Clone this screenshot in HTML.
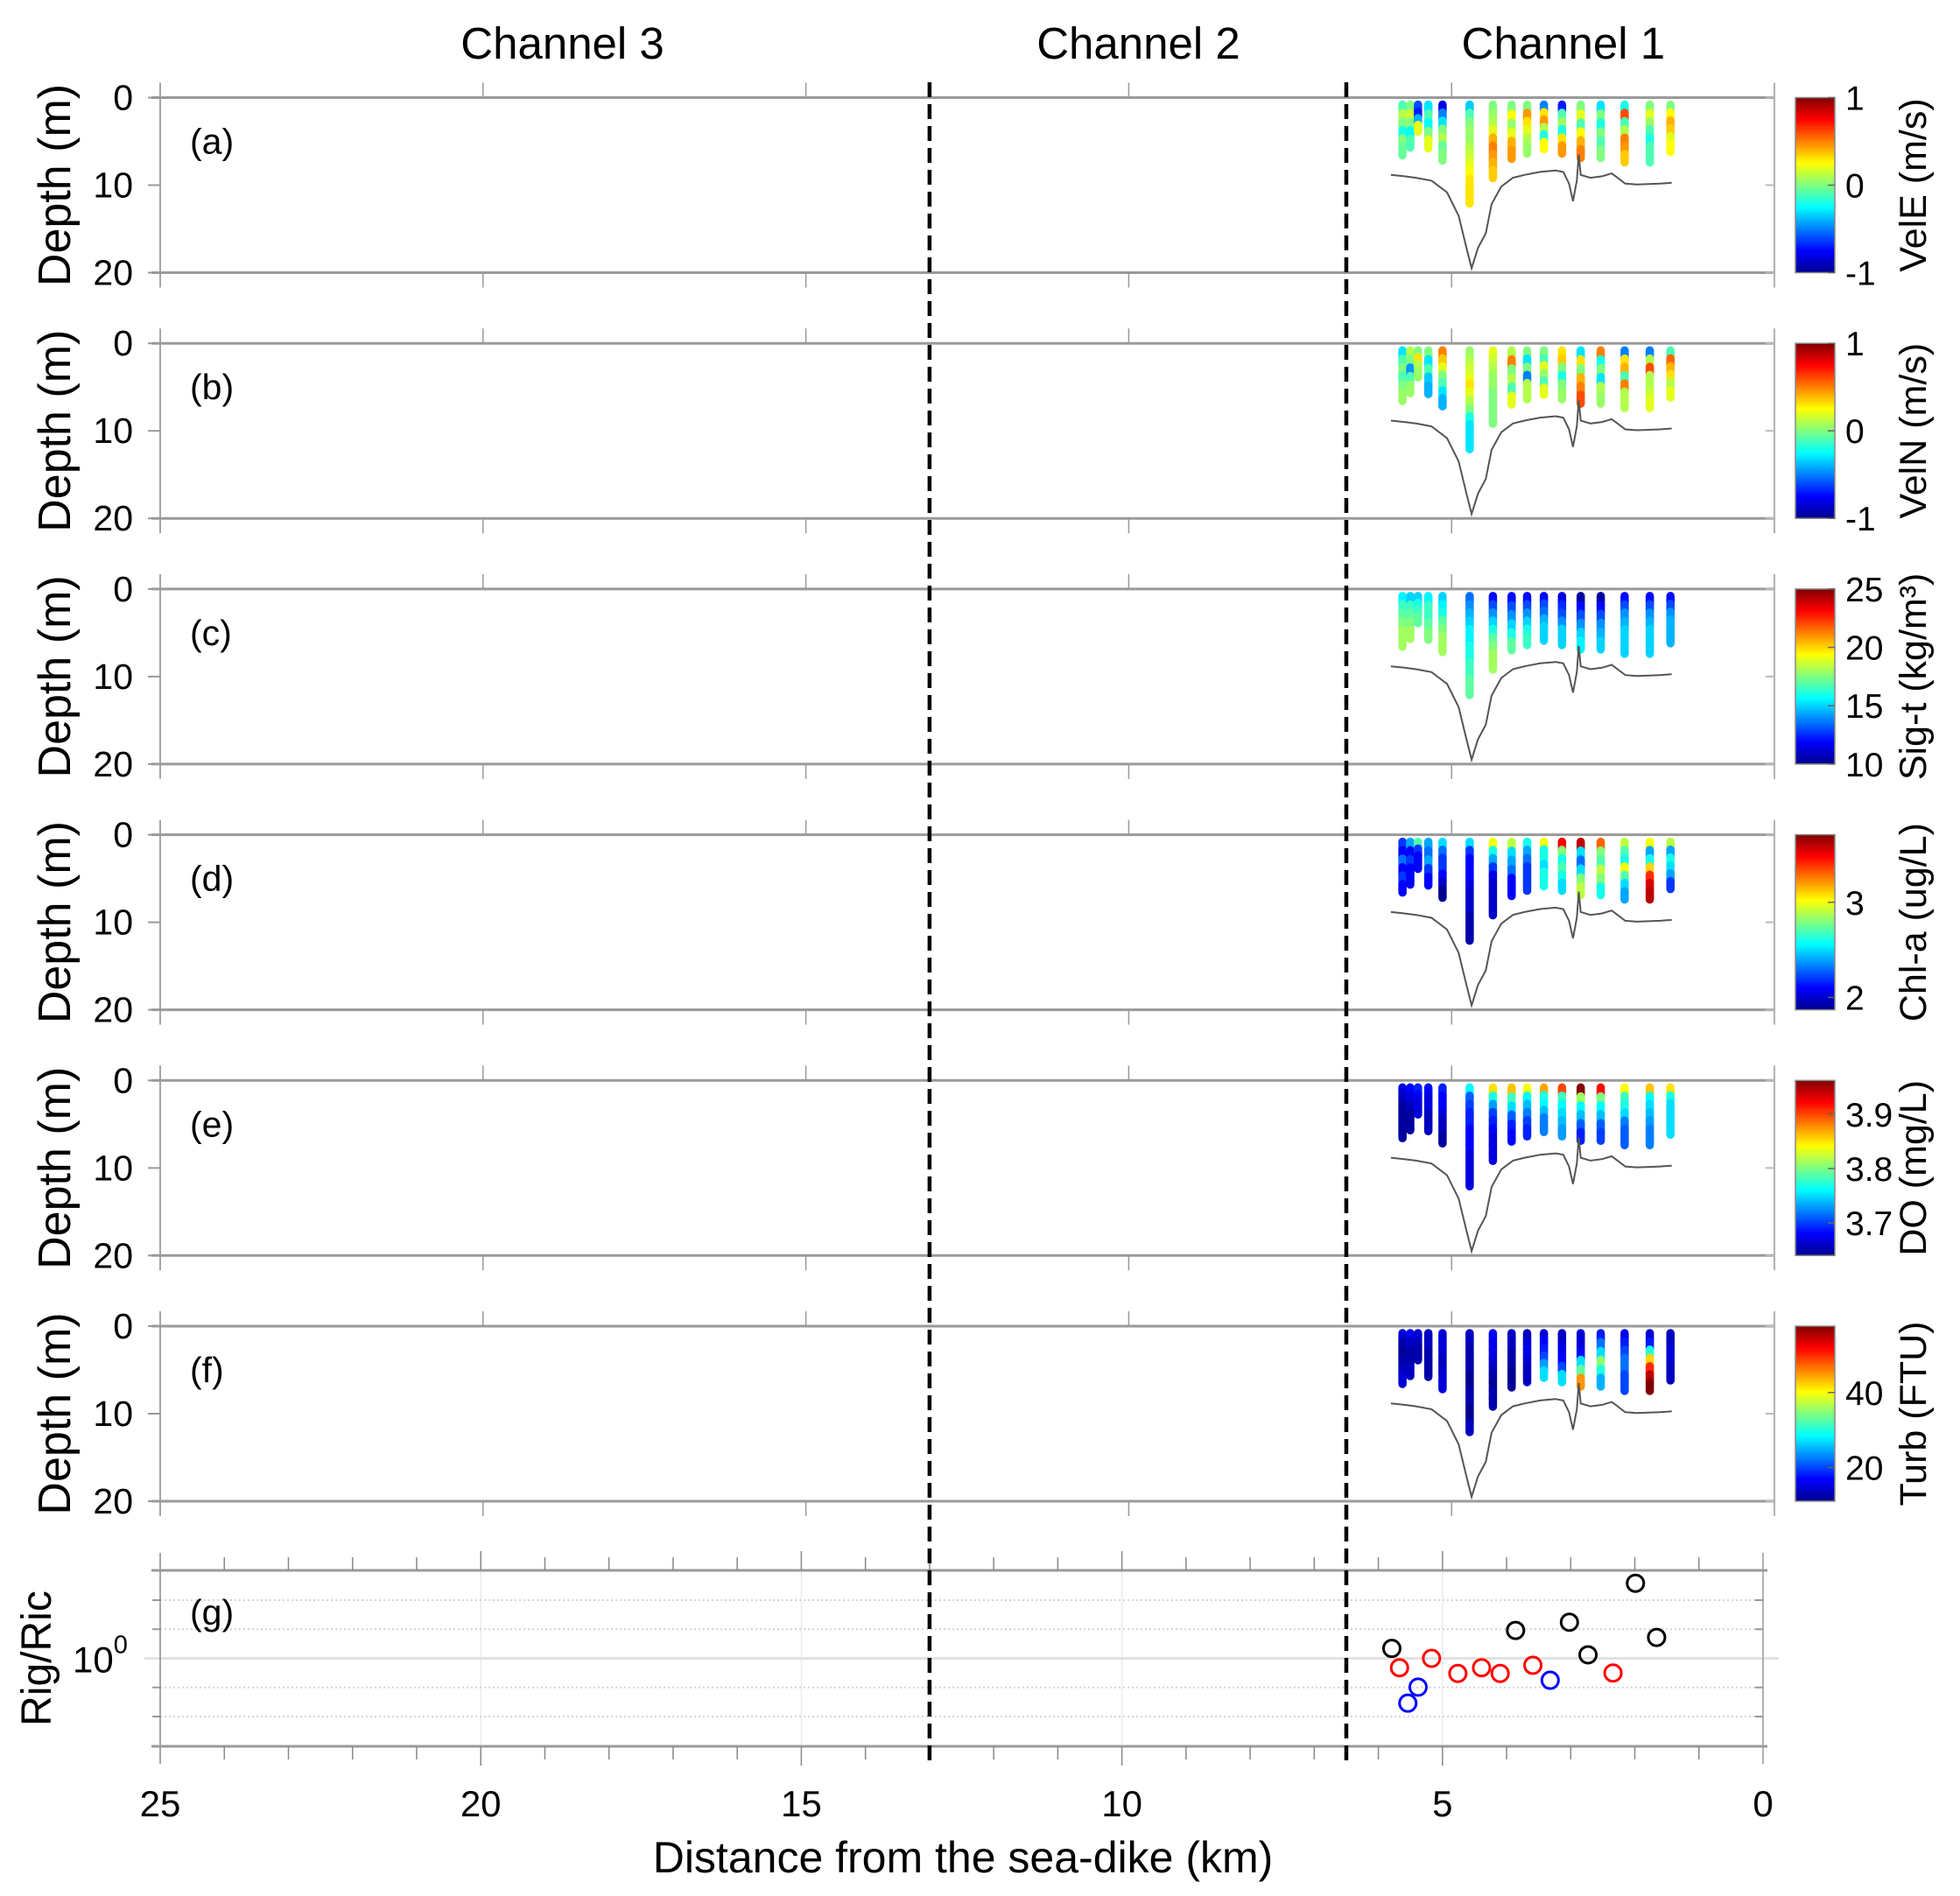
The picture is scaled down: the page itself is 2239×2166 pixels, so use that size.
<!DOCTYPE html>
<html><head><meta charset="utf-8">
<style>
html,body{margin:0;padding:0;background:#fff;}
svg{display:block;font-family:"Liberation Sans",Arial,sans-serif;}
</style></head>
<body>
<svg id="fig" width="2239" height="2166" viewBox="0 0 2239 2166" xmlns="http://www.w3.org/2000/svg">
<defs>
<linearGradient id="jet" x1="0" y1="1" x2="0" y2="0">
<stop offset="0" stop-color="#00008f"/><stop offset="0.125" stop-color="#0000ff"/>
<stop offset="0.375" stop-color="#00ffff"/><stop offset="0.625" stop-color="#ffff00"/>
<stop offset="0.875" stop-color="#ff0000"/><stop offset="1" stop-color="#800000"/>
</linearGradient>
</defs>
</svg>
<script>
// ---------- data ----------
const stationKm = [5.76,5.64,5.52,5.36,5.14,4.72,4.36,4.07,3.83,3.57,3.29,3.00,2.69,2.32,1.93,1.61];
const stationMaxDepth = [6.6,5.7,3.9,5.8,7.2,12.1,9.2,7.0,6.4,5.9,6.4,6.9,6.9,7.4,7.4,6.2];
const bathyKm = [5.94,5.73,5.55,5.31,5.07,4.89,4.77,4.69,4.59,4.47,4.38,4.23,4.05,3.87,3.63,3.39,3.27,3.18,3.12,3.06,3.03,3.00,2.85,2.67,2.52,2.43,2.31,2.13,1.77,1.59];
const bathyDepth = [8.83,8.99,9.16,9.49,10.83,13.5,17.16,19.49,17.16,15.5,12.17,10.16,9.16,8.83,8.49,8.33,8.49,9.83,11.83,9.49,6.5,8.83,9.16,8.99,8.66,9.16,9.83,9.93,9.83,9.73];

const velE = [[-0.1,0.1,0.0,-0.2,0.0,-0.05],[0,0.15,0,-0.25,-0.1],[-0.6,-0.7,-0.4,0.2],[-0.3,-0.1,-0.25,0.0,0.2],[-0.8,-0.5,-0.3,0.0,0.1,-0.05,0.0],[-0.35,-0.1,0,0.05,0.05,0.1,0.15,0.2,0.25,0.3,0.3,0.3],[0,0.05,0.1,0.2,0.4,0.5,0.45,0.4,0.35],[0,0.25,0.05,0.2,0.4,0.45],[0,0.45,0.3,0.2,0.1,0.05],[-0.5,0.3,0.45,0.1,-0.2,0.25],[-0.7,-0.1,0.05,-0.2,0.3,0.45],[0,0.2,-0.1,0.25,0.4,0.5],[-0.3,0,-0.2,0,-0.1,0],[-0.2,0.6,-0.1,0.1,0.5,0.45,0.35],[0,0.2,0.05,-0.1,-0.2,-0.1,-0.1],[0,0.25,0.4,0.35,0.2,0.25]];
const velN = [[-0.3,-0.1,0,-0.1,0,0.05],[0.1,0,-0.45,-0.1,0.05],[0,0.3,0.1,0.05],[0,-0.3,-0.1,-0.35,-0.4],[0.5,0.35,0.2,0,-0.1,-0.3,-0.4],[0.05,0.1,0.15,0.2,0.3,0.2,0.1,0.0,-0.2,-0.3,-0.3,-0.3],[0.2,0.15,0.1,0.05,0.05,0,0,0,0],[0.1,0.5,0,0.1,-0.1,0.2],[0,-0.3,0,-0.5,0.1,0.1],[0,-0.1,0.2,0.05,-0.1,0.2],[0.3,0.35,0,-0.2,0,0.05],[-0.3,0.3,0.0,0.4,0.5,0.6],[0.5,-0.2,0,-0.3,0.1,0.05],[-0.5,0.3,0.4,-0.1,0.5,0.1,0.1],[-0.5,0.1,0.6,0.1,0.1,0.15,0.2],[-0.1,0.55,0.4,0.3,0.1,0.2]];
const sigT = [[15.5,16.5,17,17.5,18,18],[15,16.5,17,17.5,18],[15,16,16.5,17],[15.5,16.5,16.5,17,17.5],[15,15.5,16,17,17.5,18,18],[13.5,14,14.5,15,15.5,15.5,16,16,16.5,16.5,17,17],[12,13,14,15,16,17,17.5,18,18],[12,13,14,15,16,17],[12,13,14,15,16,16.5],[12,13,13.5,14.5,15,15],[11.5,12.5,13,14,15,15],[10.5,12,13,14,15,15.5],[10.5,12,13,14,14.5,15],[12,13,14,14.5,15,15,15],[12,13,14,14.5,15,15,15],[12,13,14,14.5,14.5,14.5]];
const chla = [[2.2,2.1,2.3,2.1,2.2,2.1],[2.4,2.1,2.2,2.1,2.1],[2.7,2.2,2.1,2.1],[2.4,2.3,2.4,2.2,2.1],[2.5,2.3,2.2,2.2,2.1,2.0,1.9],[2.5,2.2,2.1,2.1,2.1,2.05,2.0,2.0,2.0,1.95,1.95,1.95],[3.0,2.6,2.4,2.2,2.05,2.0,2.0,2.0,2.0],[2.9,2.5,2.4,2.3,2.1,2.1],[2.6,2.4,2.3,2.2,2.2,2.2],[3.0,2.6,2.6,2.5,2.6,2.6],[3.5,2.8,2.6,2.7,2.6,2.5],[3.6,2.5,2.3,2.5,2.8,2.9],[3.3,2.8,2.7,2.9,2.8,2.6],[2.9,2.7,2.6,3.0,2.7,2.5,2.4],[3.0,2.4,2.6,3.1,3.4,3.55,3.6],[2.9,2.4,2.6,2.5,2.4,2.2]];
const dox = [[3.67,3.66,3.65,3.65,3.65,3.65],[3.68,3.67,3.66,3.65,3.65],[3.69,3.68,3.67,3.67],[3.68,3.67,3.67,3.66,3.66],[3.69,3.68,3.68,3.67,3.66,3.66,3.65],[3.76,3.71,3.70,3.69,3.69,3.68,3.68,3.68,3.67,3.67,3.67,3.67],[3.85,3.77,3.73,3.70,3.69,3.68,3.67,3.67,3.67],[3.86,3.78,3.75,3.71,3.69,3.68],[3.84,3.76,3.74,3.72,3.70,3.69],[3.87,3.77,3.76,3.74,3.72,3.72],[3.90,3.78,3.76,3.75,3.74,3.73],[3.96,3.81,3.76,3.74,3.71,3.69],[3.92,3.80,3.76,3.74,3.71,3.70],[3.84,3.78,3.77,3.75,3.72,3.71,3.71],[3.86,3.76,3.75,3.74,3.73,3.72,3.72],[3.85,3.77,3.75,3.75,3.75,3.75]];
const turb = [[15,13,12,13,14,15],[16,14,13,13,14],[15,14,13,13],[14,14,13,13,13],[15,15,15,14,14,15,15],[14,14,13,13,13,12,12,13,13,12,12,14],[17,16,16,15,14,13,12,13,13],[14,14,13,13,12,12],[14,15,16,15,14,14],[15,17,18,20,24,27],[14,15,16,17,20,27],[15,15,17,27,33,45],[18,22,27,35,30,25],[16,18,20,22,22,20,20],[15,18,30,42,50,55,58],[14,14,15,15,14,14]];

const panelLetters = ["(a)","(b)","(c)","(d)","(e)","(f)"];
const cbarLabels = ["VelE (m/s)","VelN (m/s)","Sig-t (kg/m³)","Chl-a (ug/L)","DO (mg/L)","Turb (FTU)"];
const cbarMin = [-1,-1,10,1.87,3.64,11];
const cbarMax = [1,1,25,3.71,3.962,57.7];
const cbarTicks = [[-1,0,1],[-1,0,1],[10,15,20,25],[2,3],[3.7,3.8,3.9],[20,40]];
const depthTicks = [0,10,20];
const xTicks = [25,20,15,10,5,0];
const channelNames = ["Channel 3","Channel 2","Channel 1"];
const channelCenterKm = [18.77,9.85,3.27];
const dividerKm = [13.0,6.5];

const rigBlackKm = [5.79,3.86,3.02,1.99,1.66,2.73];
const rigBlackVal = [1.48,3.02,4.17,19.5,2.29,1.15];
const rigRedKm = [5.67,5.17,4.76,4.39,4.10,3.59,2.34];
const rigRedVal = [0.69,1.0,0.55,0.69,0.55,0.76,0.56];
const rigBlueKm = [5.38,5.54,3.32];
const rigBlueVal = [0.32,0.17,0.42];

// ---------- helpers ----------
const svg = document.getElementById('fig');
const NS = 'http://www.w3.org/2000/svg';
function mk(tag, attrs, parent){
  const e = document.createElementNS(NS, tag);
  for (const k in attrs) e.setAttribute(k, attrs[k]);
  (parent||svg).appendChild(e);
  return e;
}
function jet(t){
  t = Math.max(0, Math.min(1, t));
  const r = Math.max(0, Math.min(1, Math.min(4*t-1.5, -4*t+4.5)));
  const g = Math.max(0, Math.min(1, Math.min(4*t-0.5, -4*t+3.5)));
  const b = Math.max(0, Math.min(1, Math.min(4*t+0.5, -4*t+2.5)));
  return 'rgb('+Math.round(r*255)+','+Math.round(g*255)+','+Math.round(b*255)+')';
}
const L = 183, R = 2027;
function xTop(km){ return R - km*(R-L)/25; }
const GL = 183, GR = 2014;
function xG(km){ return GR - km*(GR-GL)/25; }
const panelTop0 = 111.5, panelStep = 280.7, PH = 200;
const series = [velE, velN, sigT, chla, dox, turb];

// ---------- titles ----------
for (let i=0;i<channelNames.length;i++){
  const t = mk('text',{x:xTop(channelCenterKm[i]),y:67,'font-size':51,'text-anchor':'middle'});
  
  
  t.textContent = channelNames[i];
}

// ---------- panels a-f ----------
for (let p=0;p<6;p++){
  const top = panelTop0 + p*panelStep, bot = top + PH;
  const yD = d => top + d*PH/20;
  const g = mk('g',{});
  
  
  mk('line',{x1:L,y1:top-17,x2:L,y2:bot+17,stroke:'#888','stroke-width':1.5},g);
  mk('line',{x1:R,y1:top-17,x2:R,y2:bot+17,stroke:'#999','stroke-width':1.5},g);
  mk('line',{x1:L-10,y1:top,x2:R,y2:top,stroke:'#9a9a9a','stroke-width':3},g);
  mk('line',{x1:L-10,y1:bot,x2:R,y2:bot,stroke:'#9a9a9a','stroke-width':3},g);
  for (const k of xTicks){
    if (k===25||k===0) continue;
    mk('line',{x1:xTop(k),y1:top-17,x2:xTop(k),y2:top,stroke:'#999','stroke-width':1.5},g);
    mk('line',{x1:xTop(k),y1:bot,x2:xTop(k),y2:bot+17,stroke:'#999','stroke-width':1.5},g);
  }
  for (const d of depthTicks){
    mk('line',{x1:L-14,y1:yD(d),x2:L,y2:yD(d),stroke:'#999','stroke-width':2},g);
    mk('line',{x1:R-10,y1:yD(d),x2:R,y2:yD(d),stroke:'#bbb','stroke-width':2},g);
    const t = mk('text',{x:152,y:yD(d)+14,'font-size':41,'text-anchor':'end'},g);
    
    
    t.textContent = d;
  }
  const yl = mk('text',{x:0,y:0,'font-size':52,'text-anchor':'middle',transform:'translate(80,'+(top+PH/2)+') rotate(-90)'},g);
  
  
  yl.textContent = 'Depth (m)';
  const lt = mk('text',{x:217,y:top+64,'font-size':41},g);
  
  
  lt.textContent = panelLetters[p];
  const vals = series[p];
  const mn = cbarMin[p], mx = cbarMax[p];
  for (let c=0;c<stationKm.length;c++){
    const arr = vals[c], n = arr.length;
    const x = xTop(stationKm[c]);
    const d0 = 0.8, d1 = stationMaxDepth[c];
    const seg = (d1-d0)/n;
    for (let k=0;k<n;k++){
      const ya = yD(d0 + k*seg), yb = yD(d0 + (k+1)*seg);
      const s = mk('line',{x1:x,y1:ya,x2:x,y2:yb,stroke:jet((arr[k]-mn)/(mx-mn)),'stroke-width':9.5,'stroke-linecap':'round'},g);
      
      
    }
  }
  let dstr = '';
  for (let k=0;k<bathyKm.length;k++) dstr += (k?'L':'M')+xTop(bathyKm[k]).toFixed(1)+' '+yD(bathyDepth[k]).toFixed(1);
  const bl = mk('path',{d:dstr,fill:'none',stroke:'#555','stroke-width':2},g);
  
  
  const cb = mk('rect',{x:2051,y:top,width:45,height:PH,fill:'url(#jet)',stroke:'#888','stroke-width':1.5},g);
  
  
  for (const tv of cbarTicks[p]){
    const yy = bot - (tv-mn)/(mx-mn)*PH;
    mk('line',{x1:2088,y1:yy,x2:2096,y2:yy,stroke:'#666','stroke-width':1.5},g);
    const t = mk('text',{x:2108,y:yy+14,'font-size':39},g);
    
    
    t.textContent = tv;
  }
  const cl = mk('text',{x:0,y:0,'font-size':43,'text-anchor':'middle',transform:'translate(2200,'+(top+PH/2)+') rotate(-90)'},g);
  
  
  cl.textContent = cbarLabels[p];
}

// ---------- panel g ----------
const GT = 1794, GB = 1995, G0 = 1894.5, DEC = 66.5;
const yG = v => G0 - Math.log10(v)*DEC;
const gg = mk('g',{});


for (let k=25;k>=0;k-=5){
  if (k===25||k===0) continue;
  mk('line',{x1:xG(k),y1:GT,x2:xG(k),y2:GB,stroke:'#ebebeb','stroke-width':1.5},gg);
}
for (const lv of [-1,-0.5,0.5,1]){
  const yy = G0 - lv*DEC;
  mk('line',{x1:GL,y1:yy,x2:GR,y2:yy,stroke:'#d4d4d4','stroke-width':2,'stroke-dasharray':'2 3'},gg);
  mk('line',{x1:GL-9,y1:yy,x2:GL,y2:yy,stroke:'#999','stroke-width':2},gg);
  mk('line',{x1:GR-9,y1:yy,x2:GR,y2:yy,stroke:'#999','stroke-width':2},gg);
}
mk('line',{x1:GL-18,y1:G0,x2:GR+18,y2:G0,stroke:'#e2e2e2','stroke-width':3},gg);
mk('line',{x1:GL,y1:GT-20,x2:GL,y2:GB+20,stroke:'#888','stroke-width':1.5},gg);
mk('line',{x1:GR,y1:GT-20,x2:GR,y2:GB+20,stroke:'#999','stroke-width':1.5},gg);
mk('line',{x1:GL-10,y1:GT,x2:GR+5,y2:GT,stroke:'#9a9a9a','stroke-width':3},gg);
mk('line',{x1:GL-10,y1:GB,x2:GR+5,y2:GB,stroke:'#9a9a9a','stroke-width':3},gg);
for (let k=1;k<25;k++){
  const len = (k%5===0)?22:15;
  mk('line',{x1:xG(k),y1:GT-len,x2:xG(k),y2:GT,stroke:'#888','stroke-width':1.5},gg);
  mk('line',{x1:xG(k),y1:GB,x2:xG(k),y2:GB+len,stroke:'#888','stroke-width':1.5},gg);
}
for (const k of xTicks){
  const t = mk('text',{x:xG(k),y:2075,'font-size':42,'text-anchor':'middle'},gg);
  
  
  t.textContent = k;
}
const ylab = mk('text',{x:83,y:G0+16,'font-size':42},gg);


ylab.textContent = '10';
const ysup = mk('tspan',{dy:-22,'font-size':29},ylab);
ysup.textContent = '0';
const yt = mk('text',{x:0,y:0,'font-size':48,'text-anchor':'middle',transform:'translate(58,'+G0+') rotate(-90)'},gg);


yt.textContent = 'Rig/Ric';
const gl = mk('text',{x:217,y:GT+62,'font-size':41},gg);


gl.textContent = '(g)';
const xt = mk('text',{x:1100,y:2139,'font-size':50,'text-anchor':'middle'},gg);


xt.textContent = 'Distance from the sea-dike (km)';
function markers(kms, vals, color, name){
  for (let i=0;i<kms.length;i++){
    const c = mk('circle',{cx:xG(kms[i]),cy:yG(vals[i]),r:9.5,fill:'none',stroke:color,'stroke-width':3},gg);
    
    
  }
}
markers(rigBlackKm, rigBlackVal, '#000', 'rig-marker-black');
markers(rigRedKm, rigRedVal, '#ff0000', 'rig-marker-red');
markers(rigBlueKm, rigBlueVal, '#0000ff', 'rig-marker-blue');

// ---------- channel dividers ----------
for (const dk of dividerKm){
  const x = xG(dk);
  const ln = mk('line',{x1:x,y1:94,x2:x,y2:2012,stroke:'#000','stroke-width':4.5,'stroke-dasharray':'17 8'});
  
  
}
</script>
</body></html>
